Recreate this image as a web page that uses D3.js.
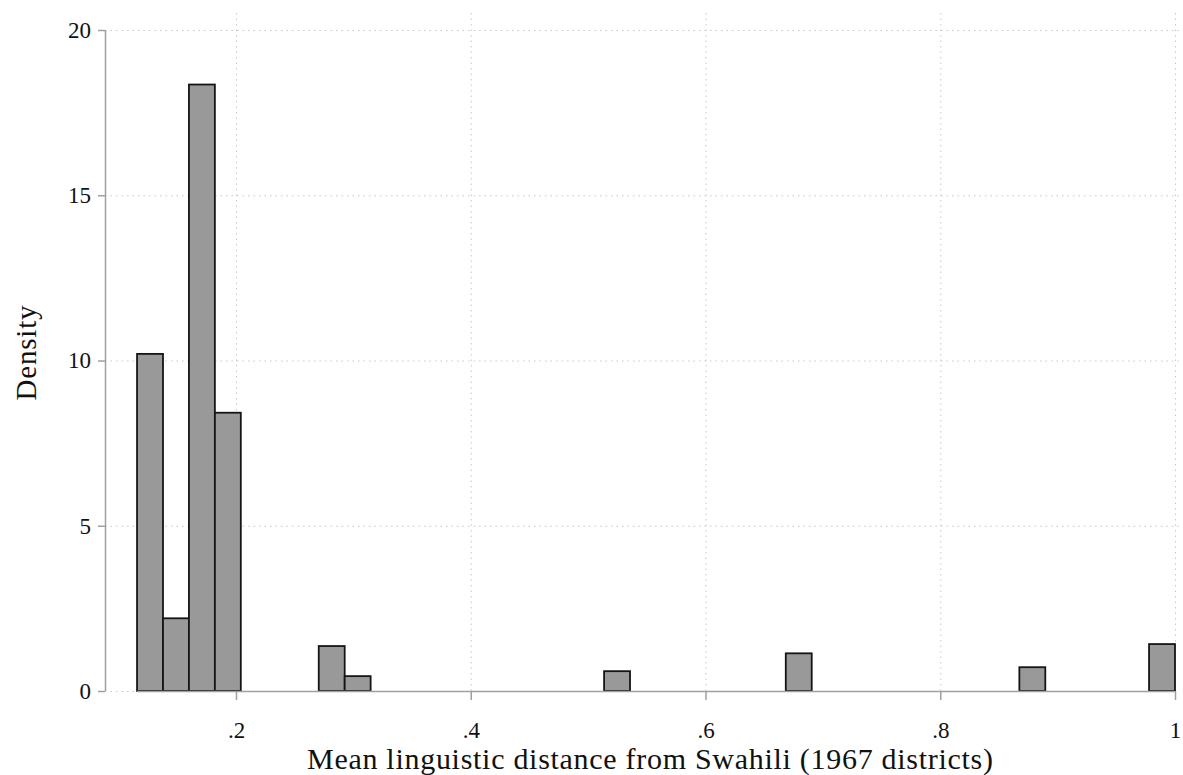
<!DOCTYPE html>
<html>
<head>
<meta charset="utf-8">
<script src="https://cdn.jsdelivr.net/npm/d3@7"></script>
<style>
  body { margin: 0; background: #fff; }
  text { font-family: "Liberation Serif", "DejaVu Serif", serif; fill: #111; }
</style>
</head>
<body>
<svg id="chart" width="1183" height="775"></svg>
<script>
// histogram bins (left edge of each non-empty bin) and their densities
var binLeft = [0.1157, 0.1378, 0.1599, 0.1820, 0.2705, 0.2926, 0.5136, 0.6684, 0.8674, 0.9779];
var binWidth = 0.0221;
var density = [10.2, 2.2, 18.35, 8.42, 1.36, 0.45, 0.6, 1.14, 0.72, 1.42];
var xTicks = [0.2, 0.4, 0.6, 0.8, 1];
var yTicks = [0, 5, 10, 15, 20];
var xRange = [0.1157, 1];
var xTitle = "Mean linguistic distance from Swahili (1967 districts)";
var yTitle = "Density";

var svg = d3.select('#chart');
var plot = {left: 105, right: 1183, top: 13, bottom: 691};

// 0.2 sits at 236 and 1 at 1175
var x = d3.scaleLinear().domain([0.2, 1]).range([236, 1175]);
var y = d3.scaleLinear().domain([0, 20]).range([691, 30]);

var fmt = function (d) {
    return d === 1 ? '1' : d3.format('.1f')(d).replace(/^0/, '');
};

// grid
var grid = svg.append('g').attr('class', 'grid')
    .style('stroke', '#c8c8c8')
    .style('stroke-width', 1)
    .style('stroke-dasharray', '1.5,4');

grid.selectAll('line.h')
    .data(yTicks.filter(function (d) { return d > 0; }))
    .enter().append('line')
    .attr('x1', plot.left).attr('x2', plot.right)
    .attr('y1', function (d) { return y(d) + 0.5; })
    .attr('y2', function (d) { return y(d) + 0.5; });

grid.append('line')
    .attr('x1', plot.left).attr('x2', x(xRange[0]))
    .attr('y1', y(0) + 0.5).attr('y2', y(0) + 0.5);

grid.selectAll('line.v')
    .data(xTicks)
    .enter().append('line')
    .attr('y1', plot.top).attr('y2', plot.bottom)
    .attr('x1', function (d) { return x(d) + 0.5; })
    .attr('x2', function (d) { return x(d) + 0.5; });

// bars
svg.append('g').selectAll('rect')
    .data(binLeft)
    .enter().append('rect')
    .attr('x', function (d) { return x(d); })
    .attr('width', function (d) { return x(d + binWidth) - x(d); })
    .attr('y', function (d, i) { return y(density[i]); })
    .attr('height', function (d, i) { return y(0) - y(density[i]); })
    .style('fill', '#999999')
    .style('stroke', '#151515')
    .style('stroke-width', 1.8);

// axes
var xAxis = d3.axisBottom(x).tickValues(xTicks).tickFormat(fmt).tickSize(9).tickPadding(22);
var yAxis = d3.axisLeft(y).tickValues(yTicks).tickSize(7).tickPadding(7);

var gx = svg.append('g').attr('transform', 'translate(0,' + y(0) + ')').call(xAxis);
gx.select('.domain').attr('d', 'M' + x(xRange[0]) + ',0.5H' + x(xRange[1]));

var gy = svg.append('g').attr('transform', 'translate(' + plot.left + ',0)').call(yAxis);
gy.select('.domain').attr('d', 'M0.5,' + y(20) + 'V' + y(0));

svg.selectAll('.domain, .tick line').style('stroke', '#a0a0a0').style('stroke-width', 1.5);
svg.selectAll('.tick text').style('font-size', '23px').style('font-family', '"Liberation Serif", serif').style('fill', '#111');

// titles
svg.append('text')
    .attr('x', 650).attr('y', 769)
    .attr('text-anchor', 'middle')
    .attr('textLength', 686)
    .attr('lengthAdjust', 'spacing')
    .style('font-size', '30px')
    .text(xTitle);

svg.append('text')
    .attr('transform', 'translate(36,353) rotate(-90)')
    .attr('text-anchor', 'middle')
    .attr('textLength', 95)
    .attr('lengthAdjust', 'spacing')
    .style('font-size', '29px')
    .text(yTitle);
</script>
</body>
</html>
